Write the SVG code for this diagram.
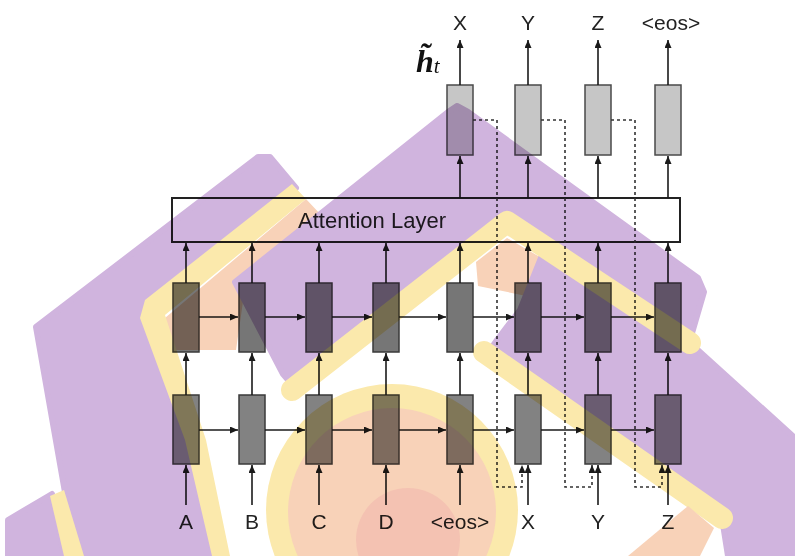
<svg xmlns="http://www.w3.org/2000/svg" width="795" height="556" viewBox="0 0 795 556">
<defs>
<style>
.enc1{fill:#828282;stroke:#3a3a3a;stroke-width:1.5}
.enc2{fill:#767676;stroke:#3a3a3a;stroke-width:1.5}
.top{fill:#c6c6c6;stroke:#4a4a4a;stroke-width:1.5}
.att{fill:#ffffff;stroke:#222;stroke-width:2}
.lbl{font-family:"Liberation Sans",Arial,sans-serif;font-size:21px;fill:#222;text-anchor:middle}
.c{stroke:#1a1a1a;stroke-width:1.6;fill:none;marker-end:url(#ah)}
.d{stroke:#333;stroke-width:1.6;fill:none;stroke-dasharray:3 3;marker-end:url(#ah)}
.pu{fill:#d0b4de;stroke:#d0b4de;stroke-width:6;stroke-linejoin:round}
.ye{fill:#fbe9ac}
.pe{fill:#f8d2b8}
</style>
<marker id="ah" viewBox="0 0 8 7" refX="8" refY="3.5" markerWidth="8" markerHeight="7" orient="auto" markerUnits="userSpaceOnUse"><path d="M0,0 L8,3.5 L0,7 z" fill="#1a1a1a"/></marker>
</defs>
<rect width="795" height="556" fill="#ffffff"/>
<g id="diagram">
<g id="attention"><rect class="att" x="172" y="198" width="508" height="44"/><text class="lbl" x="372" y="228" style="font-size:22px">Attention Layer</text></g>
<g id="enc-lower">
<rect id="l1" class="enc1" x="173" y="395" width="26" height="69"/>
<rect id="l2" class="enc1" x="239" y="395" width="26" height="69"/>
<rect id="l3" class="enc1" x="306" y="395" width="26" height="69"/>
<rect id="l4" class="enc1" x="373" y="395" width="26" height="69"/>
<rect id="l5" class="enc1" x="447" y="395" width="26" height="69"/>
<rect id="l6" class="enc1" x="515" y="395" width="26" height="69"/>
<rect id="l7" class="enc1" x="585" y="395" width="26" height="69"/>
<rect id="l8" class="enc1" x="655" y="395" width="26" height="69"/>
</g>
<g id="enc-upper">
<rect id="u1" class="enc2" x="173" y="283" width="26" height="69"/>
<rect id="u2" class="enc2" x="239" y="283" width="26" height="69"/>
<rect id="u3" class="enc2" x="306" y="283" width="26" height="69"/>
<rect id="u4" class="enc2" x="373" y="283" width="26" height="69"/>
<rect id="u5" class="enc2" x="447" y="283" width="26" height="69"/>
<rect id="u6" class="enc2" x="515" y="283" width="26" height="69"/>
<rect id="u7" class="enc2" x="585" y="283" width="26" height="69"/>
<rect id="u8" class="enc2" x="655" y="283" width="26" height="69"/>
</g>
<g id="outputs">
<rect id="t1" class="top" x="447" y="85" width="26" height="70"/>
<rect id="t2" class="top" x="515" y="85" width="26" height="70"/>
<rect id="t3" class="top" x="585" y="85" width="26" height="70"/>
<rect id="t4" class="top" x="655" y="85" width="26" height="70"/>
</g>
<g id="connectors">
<path class="c" d="M186,505V465"/><path class="c" d="M252,505V465"/><path class="c" d="M319,505V465"/><path class="c" d="M386,505V465"/><path class="c" d="M460,505V465"/><path class="c" d="M528,505V465"/><path class="c" d="M598,505V465"/><path class="c" d="M668,505V465"/>
<path class="c" d="M186,395V353"/><path class="c" d="M252,395V353"/><path class="c" d="M319,395V353"/><path class="c" d="M386,395V353"/><path class="c" d="M460,395V353"/><path class="c" d="M528,395V353"/><path class="c" d="M598,395V353"/><path class="c" d="M668,395V353"/>
<path class="c" d="M186,283V243"/><path class="c" d="M252,283V243"/><path class="c" d="M319,283V243"/><path class="c" d="M386,283V243"/><path class="c" d="M460,283V243"/><path class="c" d="M528,283V243"/><path class="c" d="M598,283V243"/><path class="c" d="M668,283V243"/>
<path class="c" d="M460,198V156"/><path class="c" d="M528,198V156"/><path class="c" d="M598,198V156"/><path class="c" d="M668,198V156"/>
<path class="c" d="M460,85V40"/><path class="c" d="M528,85V40"/><path class="c" d="M598,85V40"/><path class="c" d="M668,85V40"/>
<path class="c" d="M199,317H238"/><path class="c" d="M265,317H305"/><path class="c" d="M332,317H372"/><path class="c" d="M399,317H446"/><path class="c" d="M473,317H514"/><path class="c" d="M541,317H584"/><path class="c" d="M611,317H654"/>
<path class="c" d="M199,430H238"/><path class="c" d="M265,430H305"/><path class="c" d="M332,430H372"/><path class="c" d="M399,430H446"/><path class="c" d="M473,430H514"/><path class="c" d="M541,430H584"/><path class="c" d="M611,430H654"/>
<path class="d" d="M473,120H497V487H522V465"/>
<path class="d" d="M541,120H565V487H592V465"/>
<path class="d" d="M611,120H635V487H662V465"/>
</g>
<g id="labels">
<text class="lbl" x="186" y="529">A</text>
<text class="lbl" x="252" y="529">B</text>
<text class="lbl" x="319" y="529">C</text>
<text class="lbl" x="386" y="529">D</text>
<text class="lbl" x="460" y="529">&lt;eos&gt;</text>
<text class="lbl" x="528" y="529">X</text>
<text class="lbl" x="598" y="529">Y</text>
<text class="lbl" x="668" y="529">Z</text>
<text class="lbl" x="460" y="30">X</text>
<text class="lbl" x="528" y="30">Y</text>
<text class="lbl" x="598" y="30">Z</text>
<text class="lbl" x="671" y="30">&lt;eos&gt;</text>
</g>
<g id="htilde">
<text x="416" y="72" font-family="'Liberation Serif','DejaVu Serif',serif" fill="#111"><tspan font-size="32" font-weight="bold" font-style="italic">h&#771;</tspan><tspan font-size="21" font-style="italic" dy="1">t</tspan></text>
</g>
</g>
<g id="watermark" style="mix-blend-mode:multiply">
<circle cx="392" cy="510" r="126" class="ye"/>
<circle cx="392" cy="512" r="104" class="pe"/>
<circle cx="408" cy="540" r="52" fill="#f4c2b2"/>
<path class="pu" d="M36,327 L258,157 L270,157 L296,188 L150,300 L145,318 L186,440 L214,556 L62,556 L66,498 Z"/>
<path class="pu" d="M8,520 L52,494 L64,556 L8,556 Z"/>
<path class="ye" d="M50,496 L64,490 L84,556 L64,556 Z"/>
<path class="pe" d="M165,318 L306,199 L322,216 L245,288 L236,350 L170,350 Z"/>
<path class="ye" d="M212,556 L185,440 L140,318 L145,300 L292,184 L306,199 L165,315 L206,440 L230,556 Z"/>
<path class="pu" d="M235,282 L448,112 L457,106 L468,112 L698,278 L704,292 L690,340 L507,222 L295,388 L283,374 Z"/>
<path class="pe" d="M476,262 L507,238 L552,264 L536,298 L478,286 Z"/>
<path class="pu" d="M545,248 L690,343 L795,438 L795,556 L728,556 L722,518 L486,356 L497,340 L520,310 Z"/>
<polyline points="292,390 507,222 690,343" fill="none" stroke="#fbe9ac" stroke-width="22" stroke-linecap="round" stroke-linejoin="round"/>
<polyline points="484,352 722,518" fill="none" stroke="#fbe9ac" stroke-width="22" stroke-linecap="round"/>
<path class="pe" d="M628,556 L688,506 L714,528 L700,556 Z"/>
</g>
</svg>
